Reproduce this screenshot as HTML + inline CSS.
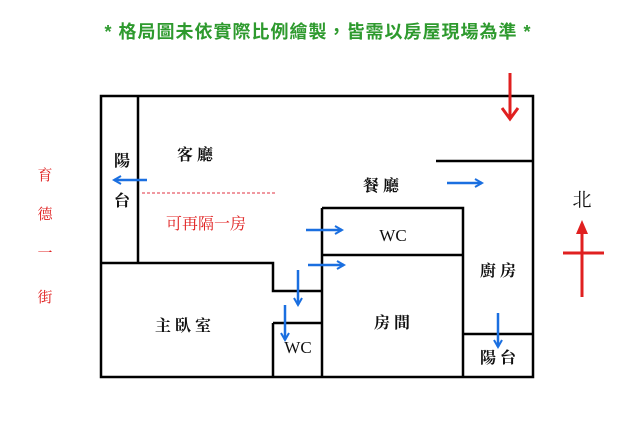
<!DOCTYPE html>
<html><head><meta charset="utf-8"><style>
html,body{margin:0;padding:0;background:#fff}
svg{display:block}
text{font-family:"Liberation Serif","Noto Serif CJK SC","Noto Sans CJK TC",serif}
</style></head><body>
<svg width="640" height="441" viewBox="0 0 640 441" xmlns="http://www.w3.org/2000/svg">
<defs>
<marker id="b" markerWidth="10" markerHeight="10" refX="8" refY="5" orient="auto" markerUnits="userSpaceOnUse">
<path d="M1,1 L8,5 L1,9" fill="none" stroke="#1a6fe0" stroke-width="2"/></marker>
</defs>
<text x="318" y="38" text-anchor="middle" font-size="18" letter-spacing="1" font-weight="bold" fill="#2e9a2e" style="font-family:'Liberation Sans','Noto Sans CJK TC',sans-serif">* 格局圖未依實際比例繪製，皆需以房屋現場為準 *</text>
<g fill="#e02020" font-size="15" text-anchor="middle">
<text x="45" y="180">育</text><text x="45" y="219">德</text><text x="45" y="258">一</text><text x="45" y="302">街</text>
</g>
<g stroke="#000" stroke-width="2.5" fill="none">
<rect x="101" y="96" width="432" height="281"/>
<path d="M138 96V263M101 263H273V291H322M273 323H322M273 323V377M322 208V377M322 208H463V377M322 255H463M436 161H533M463 334H533"/>
</g>
<line x1="142" y1="193" x2="276" y2="193" stroke="#e03040" stroke-width="1" stroke-dasharray="3,2"/>
<g stroke="#1a6fe0" stroke-width="2.5" marker-end="url(#b)">
<line x1="147" y1="180" x2="114" y2="180"/>
<line x1="447" y1="183" x2="482" y2="183"/>
<line x1="306" y1="230" x2="342" y2="230"/>
<line x1="308" y1="265" x2="344" y2="265"/>
<line x1="298" y1="270" x2="298" y2="305"/>
<line x1="285" y1="305" x2="285" y2="340"/>
<line x1="498" y1="313" x2="498" y2="347"/>
</g>
<g stroke="#e02020" stroke-width="3">
<line x1="510" y1="73" x2="510" y2="117"/>
<path d="M502 108L510 119L518 108" fill="none"/>
<line x1="582" y1="232" x2="582" y2="297"/>
<line x1="563" y1="253" x2="604" y2="253"/>
</g>
<path d="M576 234L582 220L588 234Z" fill="#e02020"/>
<g fill="#111" font-size="16" text-anchor="middle" font-weight="bold">
<text x="582" y="206" font-size="19" font-weight="normal">北</text>
<text x="122" y="166">陽</text><text x="122" y="206">台</text>
<text x="195" y="160">客 廳</text>
<text x="381" y="191">餐 廳</text>
<text x="393" y="241" font-size="17" font-weight="normal">WC</text>
<text x="498" y="276">廚 房</text>
<text x="183" y="331">主 臥 室</text>
<text x="392" y="328">房 間</text>
<text x="298" y="353" font-size="17" font-weight="normal">WC</text>
<text x="498" y="363">陽 台</text>
</g>
<text x="206" y="229" font-size="16" fill="#e02020" text-anchor="middle">可再隔一房</text>
</svg>
</body></html>
